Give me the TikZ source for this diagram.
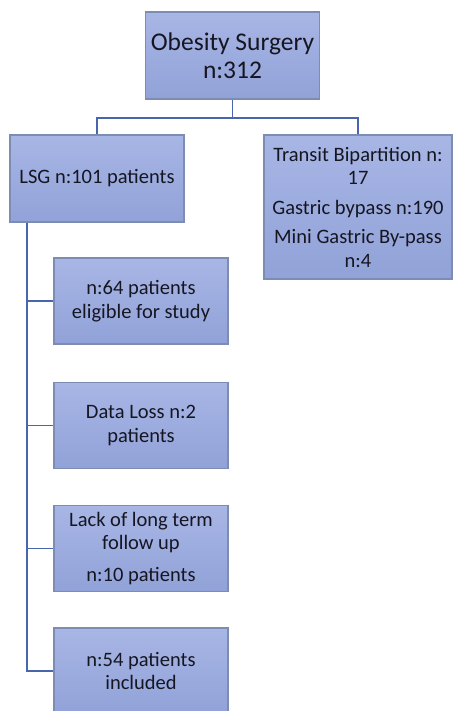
\documentclass[tikz,border=0pt]{standalone}
\usepackage{fontspec}
\setmainfont{Carlito}
\usepackage{tikz}
\usetikzlibrary{calc, positioning}
\usepackage{xcolor}
\definecolor{boxTop}{RGB}{168, 182, 229}
\definecolor{boxBot}{RGB}{145, 162, 216}
\definecolor{boxLine}{RGB}{125, 140, 178}
\definecolor{linkBlue}{RGB}{72, 102, 172}
\definecolor{txt}{RGB}{22, 22, 34}

\begin{document}
\begin{tikzpicture}[
  x=1pt, y=-1pt,
  stepbox/.style={draw=boxLine, line width=1.3pt, top color=boxTop,
                  bottom color=boxBot, inner sep=2pt, align=center,
                  text=txt, font=\fontsize{20.5}{23.5}\selectfont},
  link/.style={draw=linkBlue, line width=1.8pt}
]
  \clip (0,0) rectangle (453,711);
  \fill[white] (0,0) rectangle (453,711);

  % ── top level ──
  \node[stepbox, minimum width=174pt, minimum height=87pt,
        font=\fontsize{25.5}{28}\selectfont] (surgery) at (232.5, 55.5)
    {Obesity Surgery\\n:312};
  \node[stepbox, minimum width=174pt, minimum height=87pt] (lsg) at (97, 178.5)
    {LSG n:101 patients};
  \node[stepbox, minimum width=188pt, minimum height=144pt] (other) at (358, 207)
    {Transit Bipartition n:\\17\\[6pt]Gastric bypass n:190\\[6pt]Mini Gastric By-pass\\n:4};

  % ── LSG branch ──
  \node[stepbox, minimum width=174pt, minimum height=86pt] (eligible) at (141, 301)
    {n:64 patients\\eligible for study};
  \node[stepbox, minimum width=174pt, minimum height=86pt] (loss) at (141, 425.5)
    {Data Loss n:2\\patients};
  \node[stepbox, minimum width=174pt, minimum height=86pt] (followup) at (141, 548.5)
    {Lack of long term\\follow up\\[8pt]n:10 patients};
  \node[stepbox, minimum width=174pt, minimum height=86pt] (included) at (141, 671)
    {n:54 patients\\included};

  % ── connectors ──
  \draw[link] (surgery.south) -- ++(0,18) -| (lsg.north);
  \draw[link] (surgery.south) -- ++(0,18) -| (other.north);
  \coordinate (trunk) at ($(lsg.south west)+(18,0)$);
  \draw[link] (trunk) |- (eligible.west);
  \draw[link] (trunk) |- (loss.west);
  \draw[link] (trunk) |- (followup.west);
  \draw[link] (trunk) |- (included.west);
\end{tikzpicture}
\end{document}
